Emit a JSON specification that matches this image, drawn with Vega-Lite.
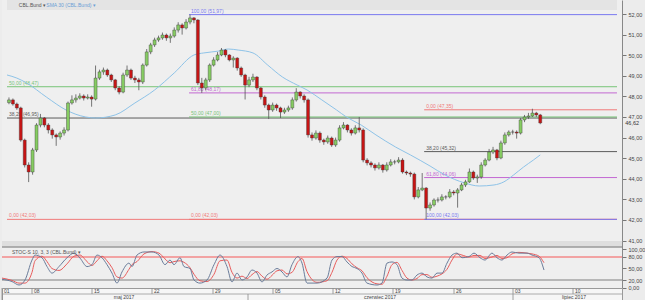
{
  "$schema": "https://vega.github.io/schema/vega-lite/v6.json",
  "padding": 0,
  "spacing": 0,
  "bounds": "flush",
  "background": "#ececec",
  "config": {
    "view": {"stroke": null},
    "font": "Liberation Sans",
    "axis": {"labelFontSize": 5.5, "labelColor": "#444", "tickColor": "#777", "domainColor": "#888", "tickSize": 4, "grid": false, "labelPadding": 2, "labelOverlap": false, "labelFlush": false, "labelSeparation": 0}
  },
  "datasets": {
    "candles": [
      {"i":0,"o":47.70,"h":47.95,"l":47.62,"c":47.83},{"i":1,"o":47.83,"h":47.90,"l":47.55,"c":47.63},{"i":2,"o":47.63,"h":47.70,"l":47.35,"c":47.44},{"i":3,"o":47.44,"h":47.50,"l":45.80,"c":45.88},{"i":4,"o":45.88,"h":45.95,"l":44.55,"c":44.67},{"i":5,"o":44.67,"h":44.80,"l":43.84,"c":44.33},{"i":6,"o":44.33,"h":45.50,"l":44.20,"c":45.40},{"i":7,"o":45.40,"h":46.70,"l":45.30,"c":46.61},{"i":8,"o":46.61,"h":47.15,"l":46.50,"c":46.95},{"i":9,"o":46.95,"h":47.00,"l":46.50,"c":46.61},
      {"i":10,"o":46.61,"h":46.70,"l":46.20,"c":46.37},{"i":11,"o":46.37,"h":46.45,"l":45.95,"c":46.13},{"i":12,"o":46.13,"h":46.20,"l":45.60,"c":46.03},{"i":13,"o":46.03,"h":46.30,"l":45.90,"c":46.22},{"i":14,"o":46.22,"h":46.50,"l":46.10,"c":46.37},{"i":15,"o":46.37,"h":47.75,"l":46.30,"c":47.68},{"i":16,"o":47.68,"h":48.05,"l":47.60,"c":47.83},{"i":17,"o":47.83,"h":48.10,"l":47.70,"c":47.92},{"i":18,"o":47.92,"h":48.15,"l":47.85,"c":48.02},{"i":19,"o":48.02,"h":48.10,"l":47.80,"c":47.92},
      {"i":20,"o":47.92,"h":48.10,"l":47.85,"c":47.97},{"i":21,"o":47.97,"h":48.05,"l":47.50,"c":47.87},{"i":22,"o":47.87,"h":49.50,"l":47.80,"c":48.89},{"i":23,"o":48.89,"h":49.30,"l":48.80,"c":49.19},{"i":24,"o":49.19,"h":49.40,"l":49.05,"c":49.28},{"i":25,"o":49.28,"h":49.35,"l":48.95,"c":49.04},{"i":26,"o":49.04,"h":49.10,"l":48.70,"c":48.80},{"i":27,"o":48.80,"h":48.85,"l":48.30,"c":48.41},{"i":28,"o":48.41,"h":48.50,"l":48.10,"c":48.21},{"i":29,"o":48.21,"h":49.15,"l":48.15,"c":49.04},
      {"i":30,"o":49.04,"h":49.50,"l":48.95,"c":49.28},{"i":31,"o":49.28,"h":49.35,"l":48.80,"c":48.89},{"i":32,"o":48.89,"h":49.00,"l":48.65,"c":48.80},{"i":33,"o":48.80,"h":48.90,"l":48.30,"c":48.70},{"i":34,"o":48.70,"h":49.60,"l":48.60,"c":49.52},{"i":35,"o":49.52,"h":50.30,"l":49.45,"c":50.16},{"i":36,"o":50.16,"h":50.60,"l":50.05,"c":50.50},{"i":37,"o":50.50,"h":50.85,"l":50.40,"c":50.74},{"i":38,"o":50.74,"h":50.95,"l":50.65,"c":50.84},{"i":39,"o":50.84,"h":51.10,"l":50.75,"c":50.98},
      {"i":40,"o":50.98,"h":51.05,"l":50.70,"c":50.84},{"i":41,"o":50.84,"h":51.05,"l":50.60,"c":50.93},{"i":42,"o":50.93,"h":51.35,"l":50.85,"c":51.22},{"i":43,"o":51.22,"h":51.60,"l":51.10,"c":51.47},{"i":44,"o":51.47,"h":51.55,"l":51.00,"c":51.32},{"i":45,"o":51.32,"h":51.75,"l":51.25,"c":51.61},{"i":46,"o":51.61,"h":51.97,"l":51.50,"c":51.81},{"i":47,"o":51.81,"h":51.85,"l":51.55,"c":51.71},{"i":48,"o":51.71,"h":51.75,"l":48.55,"c":48.65},{"i":49,"o":48.65,"h":48.90,"l":48.17,"c":48.41},
      {"i":50,"o":48.41,"h":48.90,"l":48.30,"c":48.80},{"i":51,"o":48.80,"h":49.60,"l":48.70,"c":49.52},{"i":52,"o":49.52,"h":49.90,"l":49.45,"c":49.77},{"i":53,"o":49.77,"h":50.15,"l":49.70,"c":50.01},{"i":54,"o":50.01,"h":50.35,"l":49.95,"c":50.25},{"i":55,"o":50.25,"h":50.30,"l":49.90,"c":50.01},{"i":56,"o":50.01,"h":50.05,"l":49.70,"c":49.77},{"i":57,"o":49.77,"h":49.95,"l":49.40,"c":49.86},{"i":58,"o":49.86,"h":49.90,"l":49.25,"c":49.38},{"i":59,"o":49.38,"h":49.45,"l":48.95,"c":49.04},
      {"i":60,"o":49.04,"h":49.10,"l":47.85,"c":48.55},{"i":61,"o":48.55,"h":48.95,"l":48.45,"c":48.80},{"i":62,"o":48.80,"h":49.10,"l":48.70,"c":48.94},{"i":63,"o":48.94,"h":48.98,"l":48.30,"c":48.41},{"i":64,"o":48.41,"h":48.45,"l":47.85,"c":47.97},{"i":65,"o":47.97,"h":48.05,"l":47.45,"c":47.58},{"i":66,"o":47.58,"h":47.65,"l":46.90,"c":47.34},{"i":67,"o":47.34,"h":47.70,"l":47.25,"c":47.58},{"i":68,"o":47.58,"h":47.65,"l":47.30,"c":47.44},{"i":69,"o":47.44,"h":47.50,"l":46.95,"c":47.24},
      {"i":70,"o":47.24,"h":47.45,"l":47.15,"c":47.34},{"i":71,"o":47.34,"h":47.55,"l":47.25,"c":47.44},{"i":72,"o":47.44,"h":47.95,"l":47.35,"c":47.83},{"i":73,"o":47.83,"h":48.40,"l":47.75,"c":48.21},{"i":74,"o":48.21,"h":48.25,"l":47.90,"c":48.02},{"i":75,"o":48.02,"h":48.10,"l":47.70,"c":47.83},{"i":76,"o":47.83,"h":47.90,"l":46.00,"c":46.13},{"i":77,"o":46.13,"h":46.25,"l":45.85,"c":45.98},{"i":78,"o":45.98,"h":46.35,"l":45.90,"c":46.22},{"i":79,"o":46.22,"h":46.30,"l":45.75,"c":45.88},
      {"i":80,"o":45.88,"h":45.95,"l":45.65,"c":45.79},{"i":81,"o":45.79,"h":46.10,"l":45.70,"c":45.98},{"i":82,"o":45.98,"h":46.05,"l":45.55,"c":45.64},{"i":83,"o":45.64,"h":46.00,"l":45.55,"c":45.88},{"i":84,"o":45.88,"h":46.60,"l":45.80,"c":46.47},{"i":85,"o":46.47,"h":46.75,"l":46.40,"c":46.61},{"i":86,"o":46.61,"h":46.65,"l":46.25,"c":46.37},{"i":87,"o":46.37,"h":46.45,"l":46.10,"c":46.22},{"i":88,"o":46.22,"h":46.60,"l":46.15,"c":46.47},{"i":89,"o":46.47,"h":47.00,"l":46.25,"c":46.37},
      {"i":90,"o":46.37,"h":46.45,"l":44.80,"c":44.91},{"i":91,"o":44.91,"h":45.00,"l":44.65,"c":44.77},{"i":92,"o":44.77,"h":44.85,"l":44.55,"c":44.67},{"i":93,"o":44.67,"h":44.75,"l":44.40,"c":44.53},{"i":94,"o":44.53,"h":44.80,"l":44.45,"c":44.67},{"i":95,"o":44.67,"h":44.72,"l":44.30,"c":44.43},{"i":96,"o":44.43,"h":44.80,"l":44.35,"c":44.67},{"i":97,"o":44.67,"h":44.95,"l":44.60,"c":44.82},{"i":98,"o":44.82,"h":44.92,"l":44.70,"c":44.82},{"i":99,"o":44.82,"h":45.05,"l":44.75,"c":44.91},
      {"i":100,"o":44.91,"h":45.00,"l":44.25,"c":44.33},{"i":101,"o":44.33,"h":44.40,"l":44.18,"c":44.28},{"i":102,"o":44.28,"h":44.35,"l":44.10,"c":44.23},{"i":103,"o":44.23,"h":44.30,"l":43.00,"c":43.12},{"i":104,"o":43.12,"h":43.60,"l":43.05,"c":43.46},{"i":105,"o":43.46,"h":44.28,"l":43.40,"c":43.55},{"i":106,"o":43.55,"h":43.60,"l":42.03,"c":42.58},{"i":107,"o":42.58,"h":42.85,"l":42.45,"c":42.73},{"i":108,"o":42.73,"h":43.05,"l":42.65,"c":42.97},{"i":109,"o":42.97,"h":43.10,"l":42.85,"c":42.97},
      {"i":110,"o":42.97,"h":43.25,"l":42.90,"c":43.12},{"i":111,"o":43.12,"h":43.20,"l":43.00,"c":43.12},{"i":112,"o":43.12,"h":43.50,"l":43.05,"c":43.36},{"i":113,"o":43.36,"h":43.45,"l":43.20,"c":43.31},{"i":114,"o":43.31,"h":43.55,"l":42.60,"c":43.46},{"i":115,"o":43.46,"h":43.80,"l":43.40,"c":43.70},{"i":116,"o":43.70,"h":43.95,"l":43.60,"c":43.85},{"i":117,"o":43.85,"h":44.50,"l":43.80,"c":44.33},{"i":118,"o":44.33,"h":44.40,"l":43.95,"c":44.04},{"i":119,"o":44.04,"h":44.20,"l":43.80,"c":44.09},
      {"i":120,"o":44.09,"h":44.80,"l":44.00,"c":44.67},{"i":121,"o":44.67,"h":45.00,"l":44.60,"c":44.91},{"i":122,"o":44.91,"h":45.45,"l":44.85,"c":45.30},{"i":123,"o":45.30,"h":45.55,"l":45.20,"c":45.40},{"i":124,"o":45.40,"h":45.45,"l":44.90,"c":45.01},{"i":125,"o":45.01,"h":45.85,"l":44.95,"c":45.74},{"i":126,"o":45.74,"h":46.25,"l":45.65,"c":46.13},{"i":127,"o":46.13,"h":46.35,"l":46.05,"c":46.27},{"i":128,"o":46.27,"h":46.38,"l":46.15,"c":46.27},{"i":129,"o":46.27,"h":46.35,"l":45.95,"c":46.22},
      {"i":130,"o":46.22,"h":46.95,"l":46.15,"c":46.86},{"i":131,"o":46.86,"h":47.10,"l":46.75,"c":47.00},{"i":132,"o":47.00,"h":47.20,"l":46.90,"c":47.05},{"i":133,"o":47.05,"h":47.40,"l":47.00,"c":47.19},{"i":134,"o":47.19,"h":47.25,"l":47.00,"c":47.10},{"i":135,"o":47.10,"h":47.15,"l":46.65,"c":46.71}
    ],
    "sma": [
      {"i":-0.5,"v":49.04},{"i":2,"v":48.89},{"i":4.5,"v":48.65},{"i":9.5,"v":47.97},{"i":14.5,"v":47.34},{"i":19.5,"v":47.00},{"i":22,"v":46.95},{"i":27,"v":47.10},{"i":32,"v":47.68},{"i":37,"v":48.31},{"i":42,"v":49.14},{"i":47,"v":50.01},{"i":49.5,"v":50.11},{"i":53.25,"v":50.20},{"i":55.75,"v":50.30},{"i":58.25,"v":50.25},{"i":62,"v":50.11},{"i":65.75,"v":49.52},{"i":69.5,"v":48.94},{"i":73.25,"v":48.55},{"i":75.75,"v":48.31},{"i":79.5,"v":47.83},{"i":83.25,"v":47.34},{"i":85.75,"v":47.00},{"i":89.5,"v":46.61},{"i":93.25,"v":46.13},{"i":98.25,"v":45.54},{"i":102,"v":45.16},{"i":107,"v":44.62},{"i":110.75,"v":44.19},{"i":115.75,"v":43.80},{"i":119.5,"v":43.65},{"i":123.25,"v":43.70},{"i":125.75,"v":43.85},{"i":128.25,"v":44.19},{"i":130.75,"v":44.57},{"i":133.25,"v":44.91},{"i":135,"v":45.16}
    ],
    "fib": [
      {"s":-0.5,"e":154.5,"p":42.03,"lvl":"0","t":"0,00 (42,03)"},
      {"s":-0.5,"e":154.5,"p":46.95,"lvl":"38.2","t":"38,20 (46,95)"},
      {"s":-0.5,"e":154.5,"p":48.47,"lvl":"50","t":"50,00 (48,47)"},
      {"s":45.75,"e":154.5,"p":42.03,"lvl":"0","t":"0,00 (42,03)"},
      {"s":45.75,"e":154.5,"p":47.00,"lvl":"50","t":"50,00 (47,00)"},
      {"s":45.75,"e":154.5,"p":48.17,"lvl":"61.8","t":"61,80 (48,17)"},
      {"s":45.75,"e":154.5,"p":51.97,"lvl":"100","t":"100,00 (51,97)"},
      {"s":105.5,"e":154.5,"p":47.35,"lvl":"0","t":"0,00 (47,35)"},
      {"s":105.5,"e":154.5,"p":45.32,"lvl":"38.2","t":"38,20 (45,32)"},
      {"s":105.5,"e":154.5,"p":44.06,"lvl":"61.8","t":"61,80 (44,06)"},
      {"s":105.5,"e":154.5,"p":42.03,"lvl":"100","t":"100,00 (42,03)"}
    ],
    "hdr": [
      {"i":2.5,"p":52.42,"k":"a","t":"CBL.Bund ▾"},
      {"i":9.5,"p":52.42,"k":"b","t":"SMA 30 (CBL.Bund) ▾"}
    ],
    "hbar": [{"a":52.2,"b":52.68}],
    "last": [{"i":156.6,"p":46.71,"t":"46,62"}],
    "stoch": [
      {"i":-0.5,"k":22,"d":25},{"i":2,"k":16,"d":19},{"i":3.75,"k":7,"d":12},{"i":5.25,"k":20,"d":12},{"i":7,"k":72,"d":40},{"i":7.75,"k":85,"d":70},{"i":9.5,"k":78,"d":82},{"i":10.75,"k":55,"d":68},{"i":12,"k":38,"d":50},{"i":13.75,"k":55,"d":45},
      {"i":15.75,"k":78,"d":62},{"i":17.5,"k":90,"d":82},{"i":19,"k":77,"d":85},{"i":20.75,"k":55,"d":68},{"i":22,"k":60,"d":58},{"i":23.25,"k":85,"d":70},{"i":24.5,"k":78,"d":82},{"i":25.75,"k":60,"d":70},{"i":27,"k":38,"d":52},{"i":28.25,"k":12,"d":28},
      {"i":29.5,"k":41,"d":25},{"i":31.25,"k":64,"d":48},{"i":32,"k":55,"d":60},{"i":33.25,"k":85,"d":68},{"i":35,"k":93,"d":88},{"i":37,"k":93,"d":94},{"i":38.75,"k":85,"d":90},{"i":40.25,"k":60,"d":75},{"i":41.5,"k":72,"d":65},{"i":42.5,"k":60,"d":68},
      {"i":44,"k":78,"d":70},{"i":45,"k":55,"d":66},{"i":46.5,"k":50,"d":52},{"i":47.5,"k":20,"d":35},{"i":49,"k":12,"d":18},{"i":50.75,"k":20,"d":16},{"i":52.5,"k":60,"d":35},{"i":54,"k":85,"d":70},{"i":55.75,"k":55,"d":72},{"i":57,"k":15,"d":40},
      {"i":58.25,"k":38,"d":25},{"i":59.5,"k":20,"d":30},{"i":60.75,"k":28,"d":24},{"i":62,"k":46,"d":34},{"i":63.25,"k":38,"d":42},{"i":64.5,"k":15,"d":30},{"i":65.75,"k":33,"d":22},{"i":67,"k":41,"d":32},{"i":68.25,"k":50,"d":44},{"i":69.5,"k":41,"d":46},
      {"i":70.75,"k":28,"d":36},{"i":72,"k":60,"d":40},{"i":73.5,"k":81,"d":68},{"i":74.5,"k":64,"d":76},{"i":75.75,"k":12,"d":42},{"i":78.25,"k":12,"d":14},{"i":80.75,"k":25,"d":18},{"i":82,"k":72,"d":40},{"i":83.25,"k":81,"d":72},{"i":84.5,"k":81,"d":82},
      {"i":85.75,"k":67,"d":76},{"i":87,"k":55,"d":62},{"i":88.25,"k":50,"d":52},{"i":89.5,"k":38,"d":44},{"i":90.75,"k":12,"d":26},{"i":93.25,"k":7,"d":10},{"i":94.5,"k":12,"d":9},{"i":95.75,"k":64,"d":30},{"i":97,"k":67,"d":60},{"i":98.25,"k":60,"d":66},
      {"i":99.5,"k":25,"d":45},{"i":100.75,"k":20,"d":25},{"i":102,"k":20,"d":20},{"i":103.25,"k":33,"d":24},{"i":104.5,"k":38,"d":34},{"i":105.75,"k":28,"d":34},{"i":107,"k":25,"d":27},{"i":108.25,"k":38,"d":30},{"i":109.5,"k":38,"d":36},{"i":110.75,"k":64,"d":48},
      {"i":112,"k":85,"d":72},{"i":113.25,"k":90,"d":88},{"i":114.5,"k":78,"d":85},{"i":116.25,"k":81,"d":80},{"i":117.5,"k":90,"d":84},{"i":119,"k":78,"d":84},{"i":120.25,"k":72,"d":76},{"i":122,"k":90,"d":80},{"i":123.25,"k":78,"d":84},{"i":124.5,"k":72,"d":76},
      {"i":125.75,"k":85,"d":78},{"i":127,"k":93,"d":88},{"i":128.75,"k":90,"d":92},{"i":130.75,"k":90,"d":90},{"i":132,"k":85,"d":88},{"i":133.75,"k":78,"d":82},{"i":135,"k":46,"d":65}
    ],
    "shi": [{"v":80}],
    "slo": [{"v":20}],
    "stitle": [{"i":2,"v":93,"t":"STOC-S 10, 3, 3 (CBL.Bund) ▾"}],
    "sep": [{"a":106,"b":121.6}],
    "days": [
      {"i":-0.5,"t":"01"},{"i":7,"t":"08"},{"i":22,"t":"15"},{"i":37,"t":"22"},{"i":52.25,"t":"29"},{"i":67.25,"t":"05"},{"i":82.25,"t":"12"},{"i":97.25,"t":"19"},{"i":112.5,"t":"26"},{"i":127.25,"t":"03"},{"i":142.25,"t":"10"}
    ],
    "months": [
      {"i":30,"t":"maj 2017","sep":-0.5},{"i":94,"t":"czerwiec 2017","sep":61},{"i":142.5,"t":"lipiec 2017","sep":127.25}
    ]
  },
  "vconcat": [
    {
      "width": 620,
      "height": 241,
      "view": {"fill": "#efefef"},
      "encoding": {
        "y": {"type": "quantitative", "title": null, "scale": {"domain": [40.98, 52.68], "nice": false, "zero": false},
              "axis": {"orient": "right", "values": [41,42,43,44,45,46,47,48,49,50,51,52], "labelOverlap": false, "labelFlush": false, "labelSeparation": 0, "labelExpr": "replace(format(datum.value, '.2f'), '.', ',')"}},
        "x": {"type": "quantitative", "scale": {"domain": [-0.5, 154.5], "nice": false, "zero": false}, "axis": null}
      },
      "layer": [
        {
          "data": {"name": "hbar"},
          "mark": {"type": "rect", "color": "#e4e4e4"},
          "encoding": {
            "y": {"field": "a", "type": "quantitative"},
            "y2": {"field": "b"},
            "x": {"datum": -0.5, "type": "quantitative"},
            "x2": {"datum": 154.5}
          }
        },
        {
          "data": {"name": "fib"},
          "mark": {"type": "rule", "strokeWidth": 1},
          "encoding": {
            "x": {"field": "s", "type": "quantitative"},
            "x2": {"field": "e"},
            "y": {"field": "p", "type": "quantitative"},
            "color": {"field": "lvl", "type": "nominal", "legend": null,
                      "scale": {"domain": ["0","38.2","50","61.8","100"], "range": ["#f07a7a","#5c5c5c","#78c478","#c368d2","#7a7af0"]}}
          }
        },
        {
          "data": {"name": "fib"},
          "mark": {"type": "text", "align": "left", "baseline": "bottom", "dx": 2, "dy": -1, "fontSize": 5},
          "encoding": {
            "x": {"field": "s", "type": "quantitative"},
            "y": {"field": "p", "type": "quantitative"},
            "text": {"field": "t"},
            "color": {"field": "lvl", "type": "nominal", "legend": null}
          }
        },
        {
          "data": {"name": "sma"},
          "mark": {"type": "line", "interpolate": "monotone", "color": "#8ec3e8", "strokeWidth": 1},
          "encoding": {
            "x": {"field": "i", "type": "quantitative"},
            "y": {"field": "v", "type": "quantitative"}
          }
        },
        {
          "data": {"name": "candles"},
          "mark": {"type": "rule", "color": "#555555", "strokeWidth": 0.8},
          "encoding": {
            "x": {"field": "i", "type": "quantitative"},
            "y": {"field": "l", "type": "quantitative"},
            "y2": {"field": "h"}
          }
        },
        {
          "data": {"name": "candles"},
          "mark": {"type": "bar", "size": 3, "stroke": "#3a3a3a", "strokeWidth": 0.4},
          "encoding": {
            "x": {"field": "i", "type": "quantitative"},
            "y": {"field": "o", "type": "quantitative"},
            "y2": {"field": "c"},
            "fill": {"condition": {"test": "datum.c >= datum.o", "value": "#86cc62"}, "value": "#c81414"}
          }
        },
        {
          "data": {"name": "hdr"},
          "mark": {"type": "text", "align": "left", "baseline": "middle", "fontSize": 5},
          "encoding": {
            "x": {"field": "i", "type": "quantitative"},
            "y": {"field": "p", "type": "quantitative"},
            "text": {"field": "t"},
            "fill": {"condition": {"test": "datum.k == 'a'", "value": "#555555"}, "value": "#6a9fd6"}
          }
        },
        {
          "data": {"name": "last"},
          "mark": {"type": "text", "align": "left", "baseline": "middle", "fontSize": 5.5, "color": "#333333"},
          "encoding": {
            "x": {"field": "i", "type": "quantitative"},
            "y": {"field": "p", "type": "quantitative"},
            "text": {"field": "t"}
          }
        }
      ]
    },
    {
      "width": 620,
      "height": 47,
      "view": {"fill": "#efefef"},
      "encoding": {
        "y": {"type": "quantitative", "title": null, "scale": {"domain": [-0.8, 121.6], "nice": false, "zero": false},
              "axis": {"orient": "right", "values": [0, 20, 50, 80, 100], "labelOverlap": false, "labelFlush": false, "labelSeparation": 0, "labelExpr": "replace(format(datum.value, '.2f'), '.', ',')"}},
        "x": {"type": "quantitative", "scale": {"domain": [-0.5, 154.5], "nice": false, "zero": false}, "axis": null}
      },
      "layer": [
        {
          "data": {"name": "sep"},
          "mark": {"type": "rect", "color": "#dedede"},
          "encoding": {
            "y": {"field": "a", "type": "quantitative"},
            "y2": {"field": "b"},
            "x": {"datum": -0.5, "type": "quantitative"},
            "x2": {"datum": 154.5}
          }
        },
        {
          "data": {"name": "sep"},
          "mark": {"type": "rule", "color": "#9a9a9a", "strokeWidth": 1.5},
          "encoding": {
            "y": {"field": "a", "type": "quantitative"},
            "x": {"datum": -0.5, "type": "quantitative"},
            "x2": {"datum": 154.5}
          }
        },
        {
          "data": {"name": "shi"},
          "mark": {"type": "rule", "color": "#f2a3a3", "strokeWidth": 2},
          "encoding": {
            "y": {"field": "v", "type": "quantitative"},
            "x": {"datum": -0.5, "type": "quantitative"},
            "x2": {"datum": 154.5}
          }
        },
        {
          "data": {"name": "slo"},
          "mark": {"type": "rule", "color": "#a5a5a5", "strokeWidth": 1.5},
          "encoding": {
            "y": {"field": "v", "type": "quantitative"},
            "x": {"datum": -0.5, "type": "quantitative"},
            "x2": {"datum": 154.5}
          }
        },
        {
          "data": {"name": "stoch"},
          "mark": {"type": "line", "interpolate": "monotone", "color": "#e85c5c", "strokeWidth": 1},
          "encoding": {
            "x": {"field": "i", "type": "quantitative"},
            "y": {"field": "d", "type": "quantitative"}
          }
        },
        {
          "data": {"name": "stoch"},
          "mark": {"type": "line", "interpolate": "monotone", "color": "#6a7c9a", "strokeWidth": 1},
          "encoding": {
            "x": {"field": "i", "type": "quantitative"},
            "y": {"field": "k", "type": "quantitative"}
          }
        },
        {
          "data": {"name": "stitle"},
          "mark": {"type": "text", "align": "left", "baseline": "middle", "fontSize": 5, "color": "#555555"},
          "encoding": {
            "x": {"field": "i", "type": "quantitative"},
            "y": {"field": "v", "type": "quantitative"},
            "text": {"field": "t"}
          }
        }
      ]
    },
    {
      "width": 620,
      "height": 12,
      "view": {"fill": "#f6f6f6", "stroke": "#9a9a9a"},
      "encoding": {
        "y": {"type": "quantitative", "axis": null, "scale": {"domain": [0, 2], "nice": false, "zero": false}},
        "x": {"type": "quantitative", "scale": {"domain": [-0.5, 154.5], "nice": false, "zero": false}, "axis": null}
      },
      "layer": [
        {
          "data": {"values": [{"y": 1}]},
          "mark": {"type": "rule", "color": "#9a9a9a", "strokeWidth": 0.8},
          "encoding": {
            "y": {"field": "y", "type": "quantitative"},
            "x": {"datum": -0.5, "type": "quantitative"},
            "x2": {"datum": 154.5}
          }
        },
        {
          "data": {"name": "days"},
          "mark": {"type": "rule", "color": "#8a8a8a", "strokeWidth": 0.8},
          "encoding": {
            "x": {"field": "i", "type": "quantitative"},
            "y": {"datum": 1, "type": "quantitative"},
            "y2": {"datum": 2}
          }
        },
        {
          "data": {"name": "days"},
          "mark": {"type": "text", "align": "left", "baseline": "middle", "dx": 2, "fontSize": 5, "color": "#444444"},
          "encoding": {
            "x": {"field": "i", "type": "quantitative"},
            "y": {"datum": 1.5, "type": "quantitative"},
            "text": {"field": "t"}
          }
        },
        {
          "data": {"name": "months"},
          "mark": {"type": "rule", "color": "#8a8a8a", "strokeWidth": 0.8},
          "encoding": {
            "x": {"field": "sep", "type": "quantitative"},
            "y": {"datum": 0, "type": "quantitative"},
            "y2": {"datum": 1}
          }
        },
        {
          "data": {"name": "months"},
          "mark": {"type": "text", "align": "center", "baseline": "middle", "fontSize": 5, "color": "#444444"},
          "encoding": {
            "x": {"field": "i", "type": "quantitative"},
            "y": {"datum": 0.5, "type": "quantitative"},
            "text": {"field": "t"}
          }
        }
      ]
    }
  ]
}
